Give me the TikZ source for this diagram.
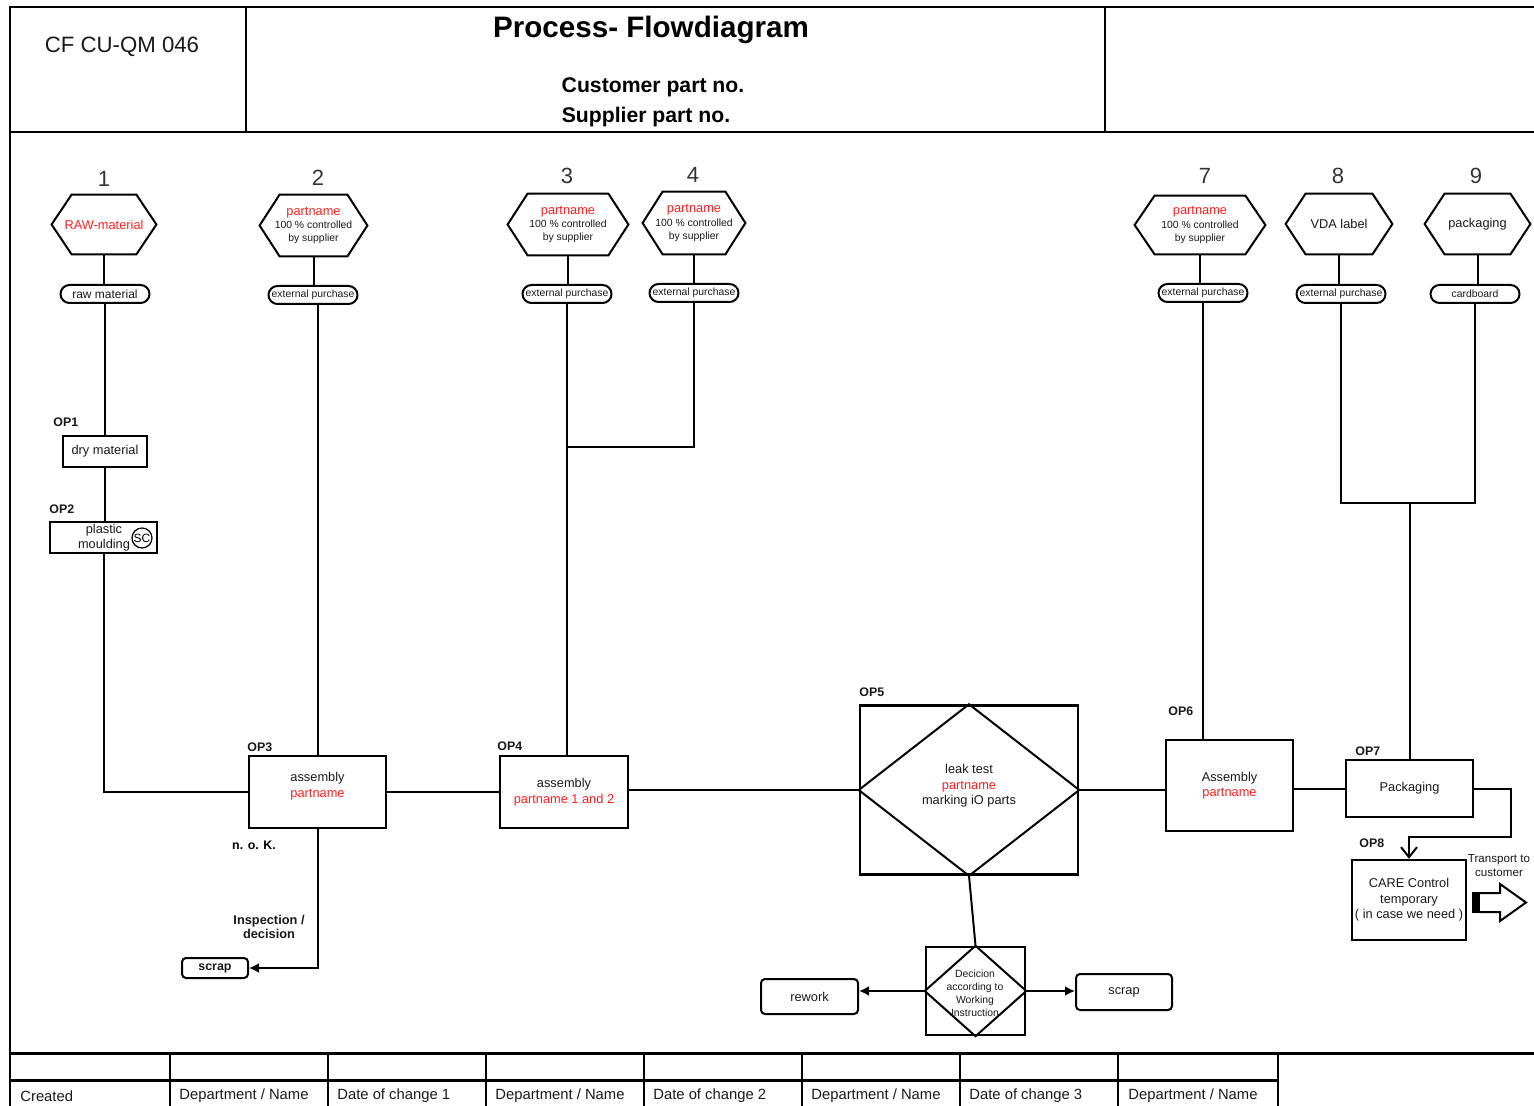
\documentclass[tikz,border=0pt]{standalone}
\usepackage{fontspec}
\setmainfont{Liberation Sans}
\usetikzlibrary{shapes.misc,arrows.meta,calc}
\definecolor{pred}{RGB}{255,30,30}
\definecolor{ink}{RGB}{25,25,25}
\newcommand\zfm{\fontsize{6.4pt}{7.8pt}\selectfont}
\newcommand\zfs{\fontsize{5.2pt}{6.6pt}\selectfont}
\newcommand\zfob{\fontsize{6.2pt}{7.5pt}\selectfont\bfseries}
\newcommand\zfnum{\fontsize{11pt}{13pt}\selectfont}
\newcommand\zff{\fontsize{7.4pt}{9pt}\selectfont}
\newcommand\zhexpart{{\zfm\color{pred}partname}\\100 \% controlled\\by supplier}
\tikzset{
  frame/.style={line width=1pt, draw=black},
  thickframe/.style={line width=1.5pt, draw=black},
  conn/.style={line width=1pt, draw=black},
  box/.style={draw, line width=1.25pt, inner sep=0pt, align=center, font=\zfm, text=ink},
  hexa/.style={inner sep=0pt, align=center, font=\zfs, text=ink},
  hexline/.style={line width=1pt, line join=miter},
  pill/.style={draw, line width=1pt, rounded rectangle, inner sep=0pt, minimum height=9pt, minimum width=44.5pt, font=\zfs, text=ink},
  rbox/.style={draw, line width=1pt, rounded corners=2pt, inner sep=0pt, font=\zfm, text=ink},
  oplab/.style={anchor=west, font=\zfob, inner sep=0pt, text=ink},
  num/.style={font=\zfnum, inner sep=0pt, text=black!80},
  foot/.style={anchor=west, font=\zff, inner sep=0pt, text=ink},
  arr/.style={conn, -{Latex[length=5pt,width=5pt]}}
}
\begin{document}
\begin{tikzpicture}[x=0.5pt,y=-0.5pt]
\useasboundingbox (0,0) rectangle (1534,1106);
% ---------- header ----------
\draw[frame] (1534,7) -- (10,7) -- (10,1106);
\draw[frame] (10,132) -- (1534,132);
\draw[frame] (246,7) -- (246,132);
\draw[frame] (1105,7) -- (1105,132);
\node[font=\fontsize{11.1pt}{13pt}\selectfont, text=ink] (docid) at (122,47) {CF CU-QM 046};
\node[font=\fontsize{14.8pt}{17pt}\selectfont\bfseries] (title) at (651,30) {Process- Flowdiagram};
\node[font=\fontsize{10.6pt}{13pt}\selectfont\bfseries] (cpn) at (653,87) {Customer part no.};
\node[font=\fontsize{10.6pt}{13pt}\selectfont\bfseries] (spn) at (646,117) {Supplier part no.};
% ---------- footer ----------
\draw[thickframe] (10,1053) -- (1534,1053);
\draw[thickframe] (10,1080) -- (1278,1080);
\foreach \xx in {170,328,486,644,802,960,1118,1278} {\draw[frame] (\xx,1053) -- (\xx,1106);}
\node[foot] (f1) at (20,1096) {Created};
\node[foot] (f2) at (179,1096) {Department / Name};
\node[foot] (f3) at (337,1096) {Date of change 1};
\node[foot] (f4) at (495,1096) {Department / Name};
\node[foot] (f5) at (653,1096) {Date of change 2};
\node[foot] (f6) at (811,1096) {Department / Name};
\node[foot] (f7) at (969,1096) {Date of change 3};
\node[foot] (f8) at (1128,1096) {Department / Name};
% ---------- numbers ----------
\node[num] (n1) at (104,179) {1};
\node[num] (n2) at (318,178) {2};
\node[num] (n3) at (567,176) {3};
\node[num] (n4) at (693,175) {4};
\node[num] (n7) at (1205,176) {7};
\node[num] (n8) at (1338,176) {8};
\node[num] (n9) at (1476,176) {9};
% ---------- hexagons ----------
\node[hexa, minimum width=52pt, minimum height=29.5pt, font=\zfm, text=pred] (h1) at (104,224.5) {RAW-material};
\node[hexa, minimum width=53.5pt, minimum height=30.5pt] (h2) at (313.5,225.5) {\zhexpart};
\node[hexa, minimum width=60pt, minimum height=30.5pt] (h3) at (568,224.5) {\zhexpart};
\node[hexa, minimum width=51pt, minimum height=31pt] (h4) at (694,223) {\zhexpart};
\node[hexa, minimum width=65pt, minimum height=29pt] (h7) at (1200,225) {\zhexpart};
\node[hexa, minimum width=53pt, minimum height=30pt, font=\zfm] (h8) at (1339,224) {VDA label};
\node[hexa, minimum width=52.5pt, minimum height=30pt, font=\zfm] (h9) at (1477.5,224) {packaging};
\foreach \hh in {h1,h2,h3,h4,h7,h8,h9} {
  \draw[hexline] (\hh.west) -- ([xshift=10pt]\hh.north west) -- ([xshift=-10pt]\hh.north east)
    -- (\hh.east) -- ([xshift=-10pt]\hh.south east) -- ([xshift=10pt]\hh.south west) -- cycle;
}
% ---------- pills ----------
\node[pill, font=\fontsize{6pt}{7pt}\selectfont] (p1) at (105,294) {raw material};
\node[pill] (p2) at (313,295) {external purchase};
\node[pill] (p3) at (567,294) {external purchase};
\node[pill] (p4) at (694,293) {external purchase};
\node[pill] (p7) at (1203,293) {external purchase};
\node[pill] (p8) at (1341,294) {external purchase};
\node[pill] (p9) at (1475,294) {cardboard};
% ---------- operation boxes ----------
\node[box, minimum width=42pt, minimum height=15.5pt] (op1) at (105,451.5) {dry material};
\node[box, minimum width=53.5pt, minimum height=15.5pt] (op2) at (103.5,537.5) {};
\node[inner sep=0pt, align=center, font=\fontsize{6.4pt}{7.5pt}\selectfont, text=ink] (op2t) at (104,538) {plastic\\moulding};
\node[draw, circle, line width=0.6pt, inner sep=0pt, minimum size=10pt, font=\fontsize{6pt}{7pt}\selectfont] (sc) at (142,538) {SC};
\node[box, minimum width=68.5pt, minimum height=36pt] (op3) at (317.5,792) {};
\node[inner sep=0pt, align=center, font=\zfm, text=ink] (op3t) at (317.5,786) {assembly\\\textcolor{pred}{partname}};
\node[box, minimum width=64pt, minimum height=36pt] (op4) at (564,792) {assembly\\\textcolor{pred}{partname 1 and 2}};
\node[box, minimum width=109pt, minimum height=84.5pt] (op5) at (969,790) {};
\draw[line width=1pt] (op5.north) -- (op5.east) -- (op5.south) -- (op5.west) -- cycle;
\node[inner sep=0pt, align=center, font=\zfm, text=ink] (op5t) at (969,786) {leak test\\\textcolor{pred}{partname}\\marking iO parts};
\node[box, minimum width=63.5pt, minimum height=45.5pt] (op6) at (1229.5,785.5) {Assembly\\\textcolor{pred}{partname}};
\node[box, minimum width=63.5pt, minimum height=28.5pt] (op7) at (1409.5,788.5) {Packaging};
\node[box, minimum width=57pt, minimum height=40pt] (op8) at (1409,900) {CARE Control\\temporary\\( in case we need )};
% OP labels
\node[oplab] (l1) at (53,422) {OP1};
\node[oplab] (l2) at (49,509) {OP2};
\node[oplab] (l3) at (247,747) {OP3};
\node[oplab] (l4) at (497,746) {OP4};
\node[oplab] (l5) at (859,692) {OP5};
\node[oplab] (l6) at (1168,711) {OP6};
\node[oplab] (l7) at (1355,751) {OP7};
\node[oplab] (l8) at (1359,843) {OP8};
% decision & ends
\node[box, minimum width=49.5pt, minimum height=44pt] (dec) at (975.5,991) {};
\draw[line width=1pt] (dec.north) -- (dec.east) -- (dec.south) -- (dec.west) -- cycle;
\node[inner sep=0pt, align=center, font=\fontsize{5.2pt}{6.5pt}\selectfont, text=ink] (dect) at (975,993) {Decicion\\according to\\Working\\Instruction};
\node[rbox, minimum width=48.5pt, minimum height=17.5pt] (rework) at (809.5,996.5) {rework};
\node[rbox, minimum width=48pt, minimum height=18pt] (scrapR) at (1124,992) {scrap};
\node[rbox, minimum width=33pt, minimum height=10pt, font=\zfob] (scrapL) at (215,968) {scrap};
\node[inner sep=0pt, font=\zfob] (nok) at (254,845) {n. o. K.};
\node[inner sep=0pt, align=center, font=\fontsize{6.4pt}{7.2pt}\selectfont\bfseries, text=ink] (insp) at (269,927) {Inspection /\\decision};
% ---------- connectors ----------
\draw[conn] (h1.south) -- (h1.south |- p1.north);
\draw[conn] (p1.south) -- (p1.south |- op1.north);
\draw[conn] (op1.south) -- (op1.south |- op2.north);
\draw[conn] (op2.south) |- (op3.west);
\draw[conn] (h2.south) -- (h2.south |- p2.north);
\draw[conn] (p2.south -| op3.north) -- (op3.north);
\draw[conn] (h3.south) -- (h3.south |- p3.north);
\coordinate (j34) at (p3.south |- 0,447);
\draw[conn] (p3.south) -- (p3.south |- op4.north);
\draw[conn] (h4.south) -- (h4.south |- p4.north);
\draw[conn] (p4.south) |- (j34);
\draw[conn] (h7.south) -- (h7.south |- p7.north);
\draw[conn] (p7.south) -- (p7.south |- op6.north);
\draw[conn] (h8.south) -- (h8.south |- p8.north);
\draw[conn] (h9.south) -- (h9.south |- p9.north);
\coordinate (j9) at (p9.south |- 0,503);
\draw[conn] (p8.south) |- (j9) -- (p9.south);
\draw[conn] (op7.north |- j9) -- (op7.north);
\draw[conn] (op3.east) -- (op3.east -| op4.west);
\draw[conn] (op5.west -| op4.east) -- (op5.west);
\draw[conn] (op5.east) -- (op5.east -| op6.west);
\draw[conn] (op7.west -| op6.east) -- (op7.west);
\coordinate (k8) at ($(op8.north)+(0,-22)$);
\draw[conn, -{Straight Barb[length=5pt,width=8pt]}] (op7.east) -- ++(37,0) |- (k8) -- (op8.north);
\draw[arr] (op3.south) |- (scrapL.east);
\draw[conn] (op5.south) -- (dec.north);
\draw[arr] (dec.west) -- (dec.west -| rework.east);
\draw[arr] (dec.east) -- (dec.east -| scrapR.west);
% transport arrow
\fill[black] (1472,892) rectangle (1480,913);
\draw[line width=1pt] (1480,893) -- (1500,893) -- (1500,884) -- (1526,902.5) -- (1500,921) -- (1500,912) -- (1480,912);
\node[inner sep=0pt, align=center, font=\fontsize{5.8pt}{7pt}\selectfont, text=ink] (trans) at (1499,866) {Transport to\\customer};
\end{tikzpicture}
\end{document}
